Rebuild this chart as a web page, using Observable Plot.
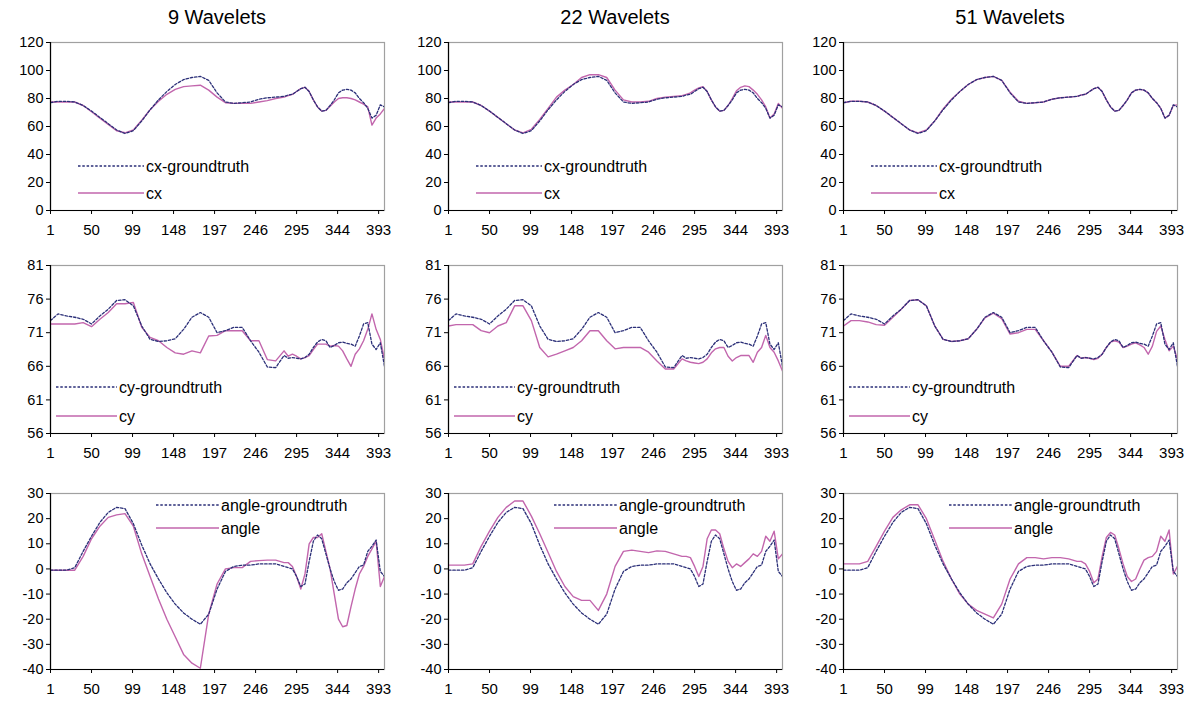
<!DOCTYPE html>
<html><head><meta charset="utf-8">
<script src="https://cdn.jsdelivr.net/npm/d3@7"></script>
<script src="https://cdn.jsdelivr.net/npm/@observablehq/plot@0.6"></script>
<style>
body{margin:0;background:#fff;font-family:"Liberation Sans",Arial,sans-serif;}
#root{position:relative;width:1193px;height:705px;overflow:hidden;background:#fff;}
.panel{position:absolute;}
.title{position:absolute;font-size:20px;transform:translateX(-50%);white-space:nowrap;color:#000;}
.panel svg g[aria-label="y-axis tick label"]{font-size:14.5px;}
.panel svg g[aria-label="x-axis tick label"]{font-size:15px;}
.panel svg g.legend{font-size:16px;text-anchor:start;}
</style></head><body><div id="root"></div>
<script>
// ---- data (frame index -> value) ----
const frames = [1,10,20,30,40,50,60,70,80,90,100,110,120,130,140,150,160,170,180,190,200,210,220,230,240,250,260,270,280,285,290,295,300,305,310,315,320,325,330,335,340,345,350,355,360,365,370,375,380,385,390,395,400];

const cxTruth = [77,78,78,77.5,75,71,66.5,62,57.5,55,57,64,72,79,85,90,93.5,95,95.8,93,84,77.5,76.5,77,77.5,79.5,80.5,81,81.5,82.5,83,85,87,88,85,79,74,71,71.5,75,79,84,86,86.5,86,84,80,77,73,66,68,75.5,74];
const cx9 = [77.5,77.5,77.5,77.5,75,70.5,66,61.5,57,55.5,57.5,64.5,72,78,83,86.5,88.5,89,89.5,86,81,77,76.5,76.5,76.5,77.5,78.5,80,81,82,83,85,87,88,85,79,74,71,71.5,74.5,77.5,80,80.5,80.5,80,79,77.5,76,74,61,66,69,73];
const cx22 = [77.5,77.5,77.5,77.5,75,71,66.5,62,57.5,55.5,58,65,73,81,86,90,95,97,97,95,86,79,77.5,77.5,78,80,81,81.5,82,83,84,86,87.5,88.5,85,79,74,71,71.5,75,80,85.5,88,89,88.5,86,83,79,74,66,69,76.5,73];
const cx51 = [77,78,78,77.5,75,71,66.5,62,57.5,55.5,57.5,64,72.5,79.5,85,90,93.5,95,95.8,93,84.5,78,76.5,77,77.5,79.5,80.5,81,81.5,82.5,83,85,87,88,85,79,74,71,71.5,75,79,84,86,86.5,86,84,80,77,73,66,68,75,75.5];

const cyTruth = [72.8,73.8,73.5,73.3,73,72.3,73.5,74.5,75.8,75.9,75,72,70,69.7,69.8,70.1,71.5,73.3,74,73.3,71,71.3,71.8,71.8,69.8,68.1,65.9,65.8,67.6,67.2,67.3,67.2,67.1,67.3,67.8,68.8,69.6,70,69.8,68.8,69.1,69.5,69.6,69.4,69.3,69,70.5,72.3,72.5,69.3,68.5,69.5,66];
const cy9 = [72.3,72.3,72.3,72.3,72.5,71.9,73,74,75.3,75.3,75.5,71.8,70.3,69.8,68.8,68,67.8,68.3,68,70.5,70.6,71.3,71.3,71.3,69.8,69.8,67,66.8,68.3,67.5,67.8,67.5,67.1,67.3,67.6,68.5,69.3,69.3,69.3,69,69.1,69,68.3,67.1,66,67.8,68.6,69.8,71.5,73.8,71.5,70,67];
const cy22 = [72,72.2,72.2,72.2,71.3,71,72,72.5,75,75,72.8,68.8,67.4,67.8,68.3,68.8,69.8,71.3,71.3,69.8,68.6,68.8,68.8,68.8,68.1,66.8,65.6,65.6,67.1,66.8,66.6,66.5,66.4,66.6,67.1,68,68.6,68.8,68.8,67.5,66.8,67.3,67.6,67.6,67.6,66.6,68.1,68.8,70.6,68.8,68.1,66.8,65.3];
const cy51 = [72,72.8,72.8,72.6,72.2,72.1,73.3,74.5,75.8,75.9,75,72,70,69.7,69.8,70.1,71.5,73.2,73.9,73.1,70.8,71,71.5,71.5,69.8,68.1,66,66,67.6,67.2,67.3,67.2,67,67.2,67.8,68.8,69.6,69.8,69.6,68.8,69,69.3,69.5,69.2,68.8,67.8,69,71.2,72,70,68.3,69,67];

const angleTruth = [-0.5,-0.5,-0.5,0.5,7,13,18.5,22.5,24.5,24,18,9.5,2,-4,-9.5,-14,-17.5,-20,-22,-18,-8,-1,1,1.5,1.5,2,2,2,1,0.5,0,-3,-7,-6,3,11,13.5,12,6,0,-5,-8.5,-8,-5.5,-4,-1.5,1,1.5,7,9,11.5,-1,-3];
const angle9 = [-0.5,-0.5,-0.5,-0.5,5,12,17,20.5,21.5,22,17,6,-3,-12,-20,-27,-34,-37.5,-39.5,-18,-6,0,0.5,0.5,3,3.3,3.5,3.5,2.5,2.5,1,-3,-8,-2,10,12.5,12.5,14,7,0,-10,-20,-23,-22.5,-15,-8,-2,1,5,8,11,-7,-3];
const angle22 = [1.5,1.5,1.5,2,9,15,20.5,24.5,27,27,21,14,6.5,-1,-7,-11,-12.5,-12.5,-16.5,-10,1,7,7.5,7,6.5,7.2,7,6,5,5,4.5,1,-3,1,12,15.5,15.5,14,8,3,0.5,2,1,2.5,4,6,5,7,13,11,15,4,6];
const angle51 = [2,2,2,3,9,15,20.5,23.5,25.5,25.5,20,11.5,3,-4,-10,-14,-16.5,-18,-19.5,-14,-4,2,4.5,4.5,4,4.5,4.5,4,3,3,2,-1,-5.5,-4,5,12.5,14.5,13.5,8,2,-3,-5,-4,0,3.5,4.5,5,7,13,11,15.5,-2,1];

const wavelets = ["9 Wavelets","22 Wavelets","51 Wavelets"];
const xTicks = [1,50,99,148,197,246,295,344,393];
const cxTicks = [0,20,40,60,80,100,120];
const cyTicks = [56,61,66,71,76,81];
const angleTicks = [-40,-30,-20,-10,0,10,20,30];

// ---- layout ----
const rows = [
  {name:"cx", truth:cxTruth, est:[cx9,cx22,cx51], domain:[0,120], ticks:cxTicks, top:42, h:168,
   leg:{x:28, y1:124, y2:151, len:66}},
  {name:"cy", truth:cyTruth, est:[cy9,cy22,cy51], domain:[56,81], ticks:cyTicks, top:265, h:168,
   leg:{x:6, y1:122, y2:151, len:61}},
  {name:"angle", truth:angleTruth, est:[angle9,angle22,angle51], domain:[-40,30], ticks:angleTicks, top:493, h:176,
   leg:{x:106, y1:12, y2:35, len:63}}
];
const colLeft = [0, 398, 793];
const mL = 50, plotW = 334, mR = 11, mT = 8, mB = 34;
const truthColor = "#2b2f78", estColor = "#c266ad";
const root = document.getElementById("root");

wavelets.forEach((t, c) => {
  const d = document.createElement("div");
  d.className = "title";
  d.textContent = t;
  d.style.left = (colLeft[c] + mL + plotW/2) + "px";
  d.style.top = "6px";
  root.appendChild(d);
});

rows.forEach((r, ri) => {
  r.est.forEach((est, c) => {
    const truthData = frames.map((f,i)=>({frame:f, value:r.truth[i]}));
    const estData = frames.map((f,i)=>({frame:f, value:est[i]}));
    const svg = Plot.plot({
      width: mL + plotW + mR,
      height: mT + r.h + mB,
      marginLeft: mL, marginRight: mR, marginTop: mT, marginBottom: mB,
      style: {fontFamily: '"Liberation Sans", Arial, sans-serif', fontSize: "14px", color: "#000", background: "transparent", overflow: "visible"},
      x: {domain: [1, 400]},
      y: {domain: r.domain},
      marks: [
        Plot.frame({stroke: "#a0a0a0", strokeWidth: 1.2}),
        Plot.line(estData, {x: "frame", y: "value", stroke: estColor, strokeWidth: 1.4, clip: true}),
        Plot.line(truthData, {x: "frame", y: "value", stroke: truthColor, strokeWidth: 1.3, strokeDasharray: "2.5,1.8", clip: true}),
        Plot.ruleX([1], {stroke: "#000", strokeWidth: 1.2}),
        Plot.ruleY([r.domain[0]], {stroke: "#000", strokeWidth: 1.2}),
        Plot.axisY({ticks: r.ticks, tickSize: 4, tickPadding: 3, label: null, tickFormat: d => String(d)}),
        Plot.axisX({ticks: xTicks, tickSize: 4, tickPadding: 10, label: null, tickFormat: d => String(d)})
      ]
    });
    // legend
    const g = d3.select(svg).append("g").attr("class", "legend")
      .attr("font-family", '"Liberation Sans", Arial, sans-serif');
    const lx = mL + r.leg.x;
    const items = [
      {y: mT + r.leg.y1, label: r.name + "-groundtruth", stroke: truthColor, dash: "2.5,1.8"},
      {y: mT + r.leg.y2, label: r.name, stroke: estColor, dash: null}
    ];
    items.forEach(it => {
      const ln = g.append("line").attr("x1", lx).attr("x2", lx + r.leg.len)
        .attr("y1", it.y).attr("y2", it.y).attr("stroke", it.stroke).attr("stroke-width", 1.3);
      if (it.dash) ln.attr("stroke-dasharray", it.dash);
      g.append("text").attr("x", lx + r.leg.len + 2).attr("y", it.y).attr("dy", "0.35em")
        .attr("text-anchor", "start").attr("fill", "#000").text(it.label);
    });
    const div = document.createElement("div");
    div.className = "panel";
    div.style.left = colLeft[c] + "px";
    div.style.top = (r.top - mT) + "px";
    div.appendChild(svg);
    root.appendChild(div);
  });
});
</script>
</body></html>
